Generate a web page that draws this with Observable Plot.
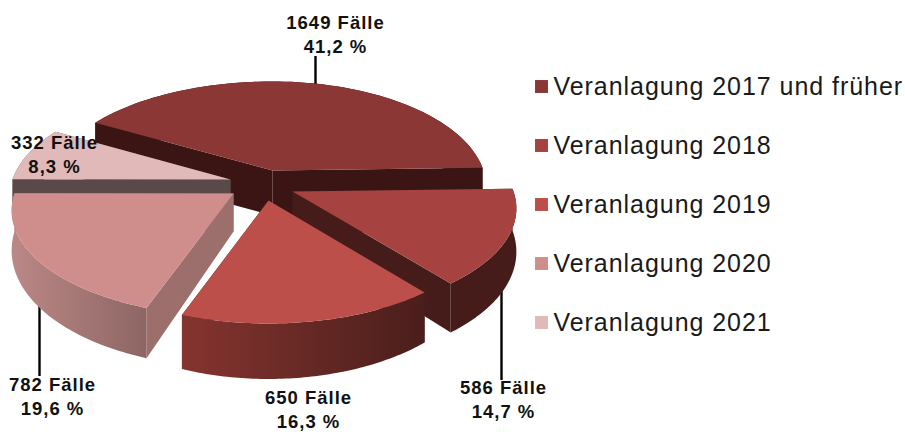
<!DOCTYPE html>
<html>
<head>
<meta charset="utf-8">
<script src="https://cdn.jsdelivr.net/npm/d3@7"></script>
<script src="https://cdn.jsdelivr.net/npm/@observablehq/plot@0.6"></script>
<style>
  html, body { margin: 0; padding: 0; background: #fff; }
  #wrap { position: relative; width: 905px; height: 432px; overflow: hidden; }
  #wrap svg { position: absolute; top: 0; background: transparent; }
</style>
</head>
<body>
<div id="wrap"></div>
<script>
// Chart values
const categories = ["Veranlagung 2017 und früher", "Veranlagung 2018", "Veranlagung 2019", "Veranlagung 2020", "Veranlagung 2021"];
const cases = [1649, 586, 650, 782, 332];
const percentLabels = ["41,2 %", "14,7 %", "16,3 %", "19,6 %", "8,3 %"];
const topColors = ["#8a3735", "#a64340", "#bd4f4b", "#cf8e8c", "#e0b9b8"];

// Layout of the 3D pie, in the plot's own units: wedge tip, half-axes, wall height, wall colours
const startAngle = 150, perspective = 0.16, depth = 103.3;
const wedges = [
  {tip: [272, 170], al: 221, ar: 211, h0: 45, h1: 0,  cut: "#3a1513", arc: ["#3a1513", "#3a1513"]},
  {tip: [292, 191], al: 221, ar: 221, h0: 42, h1: 9,  cut: "#451c19", arc: ["#451c19", "#451c19"]},
  {tip: [268, 200], al: 218, ar: 218, h0: 31, h1: 24.5, cut: "#451c19", arc: ["#85342f", "#4a1e1b"]},
  {tip: [233, 193], al: 219, ar: 219, h0: 38, h1: 13, cut: "#9c6f6d", arc: ["#bb8886", "#8d6664"]},
  {tip: [230, 179], al: 218, ar: 218, h0: 40, h1: 0,  cut: "#5a4949", arc: ["#5a4949", "#5a4949"]}
];
const labelAt = [[335, 33], [503, 397.5], [308, 407.5], [52, 395], [54, 153]];
const leaders = [
  {x: 315, y1: 56, y2: 90},
  {x: 501, y1: 275, y2: 380},
  {x: 39, y1: 300, y2: 376}
];
const paintOrder = [0, 4, 1, 3, 2];

// Wedge angles come from the case counts
const total = d3.sum(cases);
const ends = Array.from(d3.cumsum(cases), (c) => startAngle - (c / total) * 360);
const starts = [startAngle, ...ends.slice(0, -1)];

function project(w, deg) {
  const t = (deg * Math.PI) / 180, u = Math.cos(t), v = -Math.sin(t);
  const d = 1 - perspective * v;
  return {
    x: w.tip[0] + ((u < 0 ? w.al : w.ar) * u) / d,
    y: w.tip[1] + (depth * v) / d,
    h: w.h0 + w.h1 * v
  };
}

const polys = [];
let polyId = 0;
function addPoly(points, c) {
  const id = polyId++;
  for (const p of points) polys.push({id, x: p[0], y: p[1], c});
}

for (const i of paintOrder) {
  const w = wedges[i];
  const a0 = starts[i], a1 = ends[i];
  const n = 72;
  const arc = d3.range(n + 1).map((k) => project(w, a0 + ((a1 - a0) * k) / n));
  const tip = {x: w.tip[0], y: w.tip[1], h: w.h0};
  const wall = (a, b) => [[a.x, a.y], [b.x, b.y], [b.x, b.y + b.h], [a.x, a.y + a.h]];
  // cut faces
  addPoly(wall(tip, arc[0]), w.cut);
  addPoly(wall(tip, arc[n]), w.cut);
  // outer wall, shaded left to right
  addPoly(
    [...arc.map((p) => [p.x, p.y]), ...arc.slice().reverse().map((p) => [p.x, p.y + p.h])],
    `url(#wall${i})`
  );
  // top face
  addPoly([[tip.x, tip.y], ...arc.map((p) => [p.x, p.y])], topColors[i]);
}

const labels = cases.map((c, i) => ({text: `${c} Fälle\n${percentLabels[i]}`, x: labelAt[i][0], y: labelAt[i][1]}));

// Wall gradients, referenced by the wall polygons
function wallDefs() {
  const ns = "http://www.w3.org/2000/svg";
  const defs = document.createElementNS(ns, "defs");
  wedges.forEach((w, i) => {
    const g = document.createElementNS(ns, "linearGradient");
    g.setAttribute("id", `wall${i}`);
    w.arc.forEach((c, k) => {
      const s = document.createElementNS(ns, "stop");
      s.setAttribute("offset", k);
      s.setAttribute("stop-color", c);
      g.append(s);
    });
    defs.append(g);
  });
  return defs;
}

const pie = Plot.plot({
  width: 905, height: 432, margin: 0,
  x: {domain: [0, 905], range: [0, 905], axis: null},
  y: {domain: [0, 432], range: [0, 432], axis: null},
  color: {type: "identity"},
  style: {background: "transparent", fontFamily: "'Liberation Sans', Arial, sans-serif", letterSpacing: "1px"},
  marks: [
    wallDefs,
    Plot.ruleX(leaders, {x: "x", y1: "y1", y2: "y2", stroke: "#000", strokeWidth: 2.4}),
    Plot.line(polys, {x: "x", y: "y", z: "id", fill: "c"}),
    Plot.text(labels, {x: "x", y: "y", text: "text", fontSize: 18.5, fontWeight: "bold", lineHeight: 1.3, fill: "#111"})
  ]
});

const legend = Plot.plot({
  width: 385, height: 432, margin: 0,
  x: {domain: [0, 1], range: [21, 33], axis: null},
  y: {type: "point", domain: categories, range: [84, 323], padding: 0, axis: null},
  color: {domain: categories, range: topColors},
  style: {background: "transparent", fontFamily: "'Liberation Sans', Arial, sans-serif", letterSpacing: "0.95px"},
  marks: [
    Plot.dot(categories, {x: () => 0, y: (d) => d, fill: (d) => d, symbol: "square", r: 7.3}),
    Plot.text(categories, {x: () => 1, y: (d) => d, text: (d) => d, textAnchor: "start", fontSize: 25, fill: "#1a1a1a"})
  ]
});
legend.style.left = "520px";

document.getElementById("wrap").append(pie, legend);
</script>
</body>
</html>
